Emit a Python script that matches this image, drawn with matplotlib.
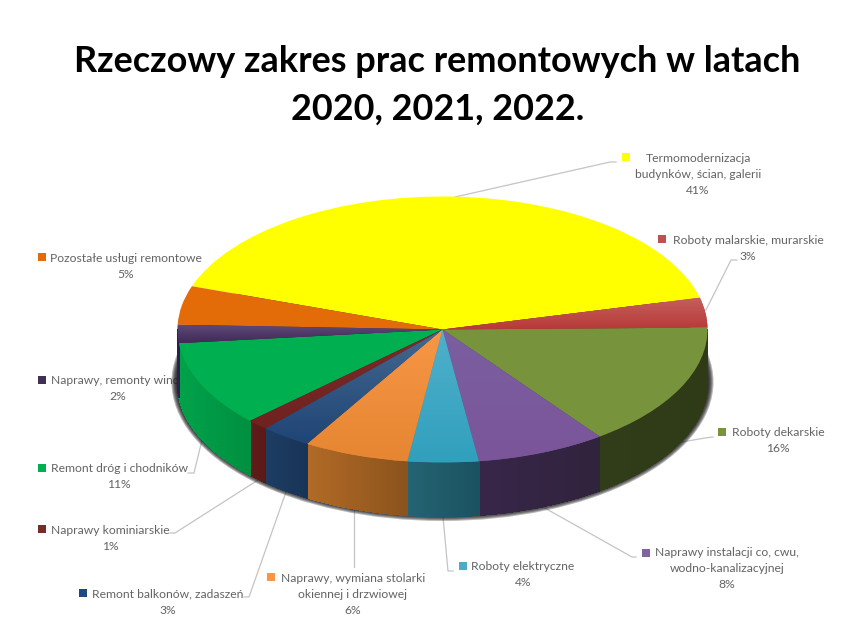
import matplotlib
matplotlib.use('Agg')
import matplotlib.pyplot as plt
import numpy as np
from matplotlib.patches import Ellipse, Rectangle
from matplotlib.lines import Line2D
from matplotlib.collections import PolyCollection
from matplotlib.colors import to_rgb

plt.rcParams['font.family'] = ['Lato', 'DejaVu Sans']

W, H = 850, 636

# dane
categories = ['Termomodernizacja\nbudynków, ścian, galerii', 'Roboty malarskie, murarskie',
              'Roboty dekarskie', 'Naprawy instalacji co, cwu,\nwodno-kanalizacyjnej',
              'Roboty elektryczne', 'Naprawy, wymiana stolarki\nokiennej i drzwiowej',
              'Remont balkonów, zadaszeń', 'Naprawy kominiarskie',
              'Remont dróg i chodników', 'Naprawy, remonty windy',
              'Pozostałe usługi remontowe']
percent_labels = ['41%', '3%', '16%', '8%', '4%', '6%', '3%', '1%', '11%', '2%', '5%']
shares = [40.8, 3.6, 15.1, 7.9, 4.3, 6.4, 3.1, 1.3, 10.4, 2.2, 4.7]

# kolory: gora plastra (gora, dol gradientu), bok (lewo, prawo), kwadracik legendy
top_colors = [('#ffff00', '#ffff00'), ('#c4605d', '#b83a38'), ('#77933c', '#77933c'),
              ('#7b5fa0', '#7a5599'), ('#4fb0cb', '#31a0bd'), ('#f79646', '#e68632'),
              ('#44688f', '#1f4576'), ('#7a2c2a', '#6f2220'), ('#00b050', '#00b050'),
              ('#5f4a78', '#41295a'), ('#e36c09', '#e36c09')]
side_colors = [('#808000', '#808000'), ('#7a2a28', '#7a2a28'), ('#313c18', '#2f3a16'),
               ('#382649', '#30233d'), ('#246472', '#1b5160'), ('#b26a26', '#8a531c'),
               ('#1e3d63', '#183457'), ('#601c18', '#5c1a16'), ('#00a24a', '#008f40'),
               ('#2a1f50', '#2a1f50'), ('#8a4206', '#8a4206')]
swatch_colors = ['#ffff00', '#c0504d', '#77933c', '#8064a2', '#4bacc6', '#f79646',
                 '#1f497d', '#772c2a', '#00b050', '#403152', '#e36c09']

# polozenie etykiet w pikselach: kwadracik (x, y), srodek tekstu x, y pierwszej linii
swatch_xy = [(622, 157), (658, 239), (718, 432), (642, 553), (459, 566), (267, 577),
             (79, 593), (38, 529), (38, 468), (38, 380), (38, 257)]
text_x = [698, 748, 778, 727, 523, 353, 168, 110, 119, 118, 126]
text_y = [159, 240, 433, 553, 567, 578, 594, 530, 468, 381, 258]
line_step = 16

leaders = [[(455, 197), (610, 162), (616, 162)],
           [(706, 310), (731, 260), (737, 260)],
           [(682, 442), (705, 438), (713, 437)],
           [(543, 507), (632, 557), (636, 557)],
           [(443, 517), (448, 571), (453, 571)],
           [(354, 510), (354, 567)],
           [(286, 492), (249, 597), (244, 597)],
           [(258, 480), (175, 533), (170, 533)],
           [(202, 440), (194, 473), (188, 473)]]

title_lines = ['Rzeczowy zakres prac remontowych w latach', '2020, 2021, 2022.']

# geometria kola (piksele)
cx, cy, rx, ry = 442.5, 329.5, 265, 133
depth = 54 / ry
start_angle = 161


def fx(x):
    return x / W


def fy(y):
    return 1 - y / H


fig = plt.figure(figsize=(W / 100, H / 100), dpi=100, facecolor='white')
ax = fig.add_axes([fx(cx - rx), fy(cy + ry), 2 * rx / W, 2 * ry / H])
ax.patch.set_visible(False)

wedges, _ = ax.pie(shares, startangle=start_angle, counterclock=False, radius=1,
                   center=(0, 0), colors=[c[1] for c in top_colors])
for w_ in wedges:
    w_.set_zorder(5)
    w_.set_linewidth(0)

# cien pod kolem
for i in range(6):
    grow = (6 - i) * 1.0
    ax.add_patch(Ellipse((0, -depth + 1.5 / ry), 2 * (rx + grow) / rx, 2 * (ry + grow) / ry,
                         facecolor='#1a1a1a', edgecolor='none', alpha=0.3, zorder=1,
                         clip_on=False))

# katy plastrow
ang = start_angle - np.cumsum([0] + shares) / sum(shares) * 360

# boki plastrow (tylko widoczna, dolna czesc)
for i in range(len(shares)):
    a0, a1 = ang[i], ang[i + 1]
    s0, s1 = min(a0, 0), max(a1, -180)
    if s0 <= s1:
        continue
    t = np.radians(np.linspace(s1, s0, 30))
    c0, c1 = np.array(to_rgb(side_colors[i][0])), np.array(to_rgb(side_colors[i][1]))
    polys, cols = [], []
    for k in range(len(t) - 1):
        x0, x1 = np.cos(t[k]), np.cos(t[k + 1])
        y0, y1 = np.sin(t[k]), np.sin(t[k + 1])
        polys.append([(x0, y0), (x1, y1), (x1, y1 - depth), (x0, y0 - depth)])
        frac = (x0 - np.cos(t[0])) / max(np.cos(t[-1]) - np.cos(t[0]), 1e-6)
        cols.append(c0 + (c1 - c0) * frac)
    ax.add_collection(PolyCollection(polys, facecolors=cols, edgecolors=cols, linewidths=0.4,
                                     antialiaseds=False, zorder=3, clip_on=False))

# gradient na gorze plastrow
for i, w_ in enumerate(wedges):
    if top_colors[i][0] == top_colors[i][1]:
        continue
    t = np.radians(np.linspace(ang[i], ang[i + 1], 40))
    ys = np.append(np.sin(t), 0)
    xs = np.append(np.cos(t), 0)
    c0, c1 = np.array(to_rgb(top_colors[i][0])), np.array(to_rgb(top_colors[i][1]))
    grad = np.linspace(0, 1, 64)[:, None, None] * (c1 - c0)[None, None, :] + c0[None, None, :]
    im = ax.imshow(grad, extent=(xs.min(), xs.max(), ys.min(), ys.max()), origin='upper',
                   aspect='auto', zorder=6, interpolation='bilinear')
    im.set_clip_path(w_)

ax.set_aspect('auto')
ax.set_xlim(-1, 1)
ax.set_ylim(-1, 1)

# tytul
fig.text(fx(437), fy(61), title_lines[0], ha='center', va='center', fontsize=25.9,
         fontweight='bold', color='black')
fig.text(fx(438), fy(109), title_lines[1], ha='center', va='center', fontsize=25.9,
         fontweight='bold', color='black')

# etykiety pod kolem (winda czesciowo zaslonieta), linie odniesienia
for pts in leaders:
    fig.add_artist(Line2D([fx(p[0]) for p in pts], [fy(p[1]) for p in pts], color='#c4c4c4',
                          lw=0.9, transform=fig.transFigure, zorder=-1))

for i in range(len(categories)):
    sx, sy = swatch_xy[i]
    fig.add_artist(Rectangle((fx(sx), fy(sy + 4)), 8 / W, 8 / H, facecolor=swatch_colors[i],
                             edgecolor='none', transform=fig.transFigure, zorder=-1))
    parts = categories[i].split('\n') + [percent_labels[i]]
    for j, line in enumerate(parts):
        fig.text(fx(text_x[i]), fy(text_y[i] + j * line_step), line, ha='center', va='center',
                 fontsize=8.75, color='#636363', zorder=-1)

fig.savefig('out.png', dpi=100)
